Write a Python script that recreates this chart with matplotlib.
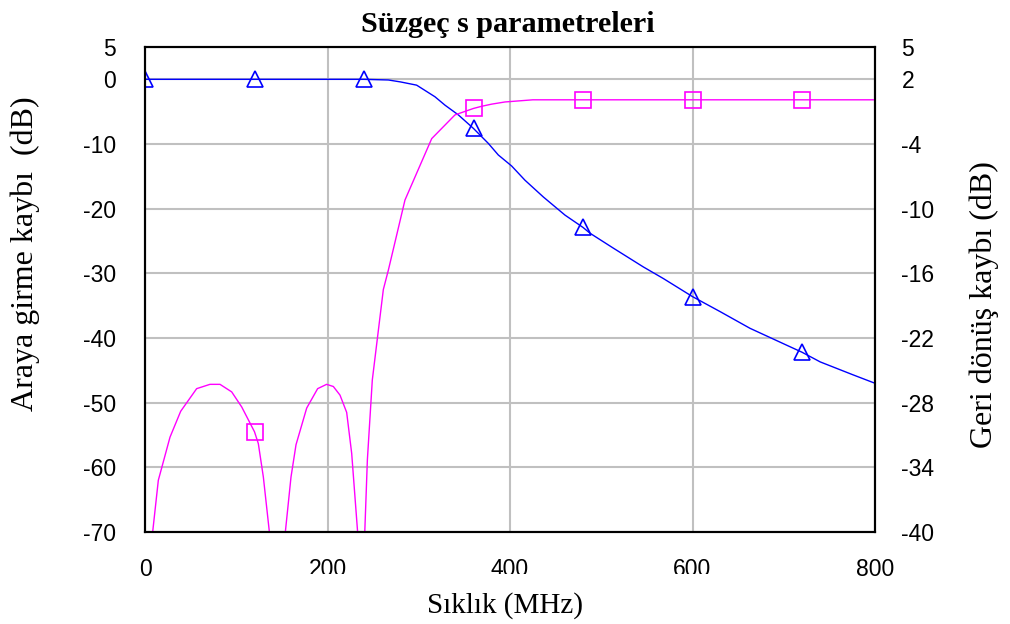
import matplotlib
matplotlib.use("Agg")
import matplotlib.pyplot as plt
from matplotlib.transforms import Bbox

plt.rcParams["axes.unicode_minus"] = False

# ---- data ----
blue_f = [0, 120, 240, 266.7, 280, 297.7, 317.8, 328.8, 343.4, 360, 376.2, 387.2, 401.8,
          416.4, 436.6, 460.3, 480, 487.7, 513.2, 546, 568, 600, 630, 663, 703, 720,
          740, 776, 800]
blue_db = [0, 0, 0, -0.1, -0.4, -0.9, -2.7, -4.0, -5.5, -7.6, -9.9, -11.7, -13.4,
           -15.6, -18.2, -21.0, -22.9, -23.8, -26.1, -29.0, -30.8, -33.6, -35.9, -38.5, -41.1, -42.2,
           -43.7, -45.7, -47.0]

mag_f = [0, 8.4, 14.6, 27.4, 39.1, 56.6, 71.2, 82.2, 95, 106, 120, 124.2, 129.7, 136.3,
         145, 153.8, 160, 165.5, 177.2, 189.2, 199, 206.4, 213.7, 221, 226.5, 233, 236,
         240, 243.7, 249.1, 261.2, 266.7, 284.9, 314.2, 339.7, 360, 369, 380, 394.5,
         425, 480, 600, 720, 800]
mag_db = [-50, -40, -35.2, -31.2, -28.8, -26.7, -26.3, -26.3, -27.0, -28.4, -30.7, -31.8, -34.9, -40,
          -60, -40, -34.9, -31.9, -28.5, -26.7, -26.3, -26.5, -27.3, -28.9, -32.7, -40, -55,
          -42, -33.3, -25.9, -17.5, -15.7, -9.2, -3.5, -1.3, -0.7, -0.5, -0.3, -0.1,
          0.1, 0.1, 0.1, 0.1, 0.1]

marker_f_blue = [0, 120, 240, 360, 480, 600, 720]
marker_f_mag = [0, 120, 240, 360, 480, 600, 720]

x_ticks = [0, 200, 400, 600, 800]
left_ticks = [5, 0, -10, -20, -30, -40, -50, -60, -70]
right_ticks = [5, 2, -4, -10, -16, -22, -28, -34, -40]

title = "Süzgeç s parametreleri"
xlabel = "Sıklık (MHz)"
ylabel_left = "Araya girme kaybı  (dB)"
ylabel_right = "Geri dönüş kaybı (dB)"

# ---- figure ----
W, H = 1010, 624
fig = plt.figure(figsize=(W / 100, H / 100), dpi=100)
L, R, T, B = 145, 875, 47, 532
ax = fig.add_axes([L / W, 1 - B / H, (R - L) / W, (B - T) / H])
ax2 = ax.twinx()

sans = "Liberation Sans"
serif = "Liberation Serif"
grid_c = "#c0c0c0"

ax.set_xlim(0, 800)
ax.set_ylim(-70, 5)
ax2.set_ylim(-40, 5)
ax.set_xticks(x_ticks)
ax.set_yticks(left_ticks)
ax2.set_yticks(right_ticks)

for a in (ax, ax2):
    for s in a.spines.values():
        s.set_linewidth(1.5)
        s.set_color("black")

ax.grid(True, color=grid_c, linewidth=1.5)
ax.set_axisbelow(True)

ax.tick_params(axis="y", length=0, pad=21, labelsize=16.5)
ax.tick_params(axis="x", length=0, pad=19, labelsize=16.5)
ax2.tick_params(axis="y", length=0, pad=19, labelsize=16.5)
for lab in ax.get_xticklabels() + ax.get_yticklabels() + ax2.get_yticklabels():
    lab.set_fontfamily(sans)

# the middle x tick labels are cut off at the bottom in the reference
clip = Bbox([[0, H - 574], [W, H]])
for lab in ax.get_xticklabels()[1:4]:
    lab.set_clip_box(clip)
    lab.set_clip_on(True)

bi = [blue_f.index(v) for v in marker_f_blue]
mi = [mag_f.index(v) for v in marker_f_mag]

ax.plot(blue_f, blue_db, color="#0000ff", linewidth=1.0, marker="^", markevery=bi,
        markersize=11, markerfacecolor="none", markeredgecolor="#0000ff", markeredgewidth=1.2)
ax2.plot(mag_f, mag_db, color="#ff00ff", linewidth=1.0, marker="s", markevery=mi,
         markersize=11, markerfacecolor="none", markeredgecolor="#ff00ff", markeredgewidth=1.2)

fig.text(508 / W, 1 - 32 / H, title, ha="center", va="baseline", fontsize=21.7,
         fontweight="bold", family=serif)
fig.text(505 / W, 1 - 613 / H, xlabel, ha="center", va="baseline", fontsize=21, family=serif)
fig.text(33 / W, 1 - 253.5 / H, ylabel_left, ha="center", va="baseline", rotation=90,
         rotation_mode="anchor", fontsize=23, family=serif)
fig.text(992 / W, 1 - 305 / H, ylabel_right, ha="center", va="baseline", rotation=90,
         rotation_mode="anchor", fontsize=23, family=serif)

fig.savefig("out.png", dpi=100)
